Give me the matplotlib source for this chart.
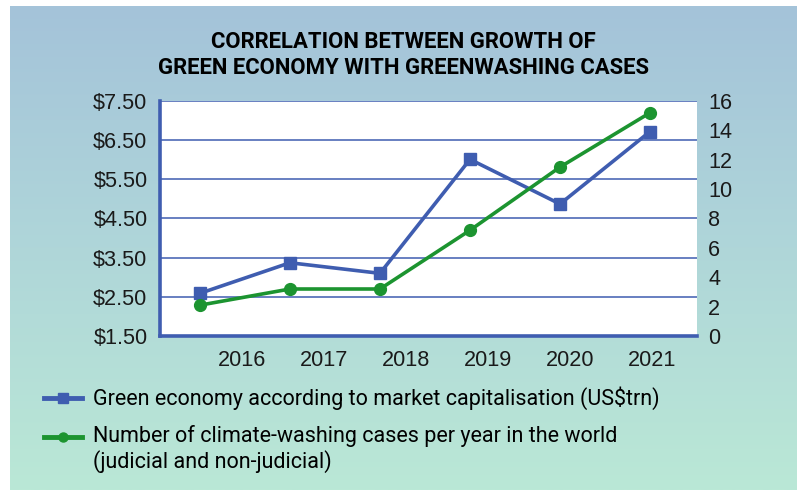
import numpy as np
import matplotlib.pyplot as plt
from matplotlib.colors import LinearSegmentedColormap
from matplotlib.lines import Line2D

# ==============================
# Data
# ==============================
years = ["2016", "2017", "2018", "2019", "2020", "2021"]
green_economy = [2.59, 3.37, 3.10, 6.01, 4.87, 6.72]      # US$trn, left axis
washing_cases = [2.1, 3.2, 3.2, 7.2, 11.5, 15.2]           # right axis

left_ticks = [1.5, 2.5, 3.5, 4.5, 5.5, 6.5, 7.5]
right_ticks = [0, 2, 4, 6, 8, 10, 12, 14, 16]

title = "CORRELATION BETWEEN GROWTH OF\nGREEN ECONOMY WITH GREENWASHING CASES"
label_blue = "Green economy according to market capitalisation (US$trn)"
label_green = "Number of climate-washing cases per year in the world\n(judicial and non-judicial)"

blue = "#3F5DB0"
green = "#1C9430"
tick_font = "Liberation Sans"
tick_size = 15.6

# ==============================
# Figure + gradient background
# ==============================
fig = plt.figure(figsize=(7.97, 4.90), dpi=100)
fig.patch.set_facecolor("white")

bg = fig.add_axes([10 / 797, 0, 787 / 797, 484 / 490], zorder=-10)
cmap = LinearSegmentedColormap.from_list("bg", ["#A4C3DA", "#AFD6D9", "#BAE8D6"])
bg.imshow(np.linspace(0, 1, 256).reshape(-1, 1), aspect="auto", cmap=cmap,
          extent=[0, 1, 0, 1], origin="upper")
bg.axis("off")

# ==============================
# Main axes
# ==============================
ax = fig.add_axes([160 / 797, 154 / 490, 537 / 797, 235 / 490])
ax.set_facecolor("white")
x = np.arange(len(years))

ax.plot(x, green_economy, color=blue, lw=2.6, marker="s", ms=9,
        markerfacecolor=blue, markeredgecolor=blue, zorder=3)
ax.set_ylim(1.5, 7.5)
ax.set_yticks(left_ticks)
ax.set_yticklabels([f"${v:.2f}" for v in left_ticks])
ax.set_xlim(-0.444, 5.522)
ax.set_xticks(0.467 + 0.911 * x)
ax.set_xticklabels(years)
ax.yaxis.grid(True, color=blue, lw=1.1)
ax.set_axisbelow(True)

for side in ["top", "right"]:
    ax.spines[side].set_visible(False)
ax.spines["left"].set_color(blue)
ax.spines["left"].set_linewidth(2.6)
ax.spines["bottom"].set_color(blue)
ax.spines["bottom"].set_linewidth(2.6)
ax.tick_params(axis="both", length=0, labelsize=tick_size, colors="#1a1a1a")
ax.tick_params(axis="y", pad=9)
ax.tick_params(axis="x", pad=10)
for lab in ax.get_xticklabels() + ax.get_yticklabels():
    lab.set_fontfamily(tick_font)

ax2 = ax.twinx()
ax2.plot(x, washing_cases, color=green, lw=2.6, marker="o", ms=8.5,
         markerfacecolor=green, markeredgecolor=green, zorder=3)
ax2.set_ylim(0, 16)
ax2.set_yticks(right_ticks)
ax2.tick_params(axis="y", length=0, labelsize=tick_size, pad=8, colors="#1a1a1a")
for lab in ax2.get_yticklabels():
    lab.set_fontfamily(tick_font)
for side in ["top", "right", "left", "bottom"]:
    ax2.spines[side].set_visible(False)

# ==============================
# Title
# ==============================
fig.text(403 / 797, 1 - 55 / 490, title, ha="center", va="center",
         fontsize=15.9, fontweight="bold", family="Roboto", linespacing=1.27)

# ==============================
# Legend (drawn by hand so the handle sits on the first text line)
# ==============================
legend_items = [(blue, "s", label_blue, 398), (green, "o", label_green, 437)]
for color, mk, label, ypix in legend_items:
    yf = 1 - ypix / 490
    fig.add_artist(Line2D([44 / 797, 82 / 797], [yf, yf], color=color, lw=3.5,
                          transform=fig.transFigure))
    fig.add_artist(Line2D([63 / 797], [yf], color=color, marker=mk, ms=6.5,
                          transform=fig.transFigure))
    fig.text(93 / 797, yf + 12 / 490, label, ha="left", va="top",
             family="Roboto", fontsize=15.5, linespacing=1.18)

plt.savefig("out.png", dpi=100, facecolor=fig.get_facecolor())
